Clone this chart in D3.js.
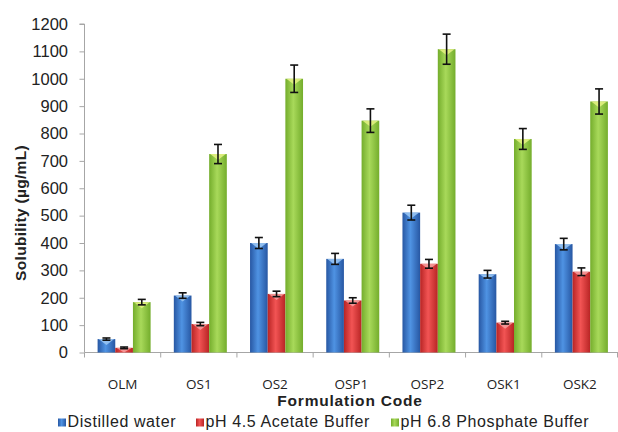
<!DOCTYPE html>
<html><head><meta charset="utf-8">
<script src="https://cdn.jsdelivr.net/npm/d3@7"></script>
<style>body{margin:0;background:#fff}svg{display:block}</style>
</head><body>
<svg id="c" width="618" height="432"></svg>
<script>
const categories = ["OLM","OS1","OS2","OSP1","OSP2","OSK1","OSK2"];
const seriesNames = ["Distilled water","pH 4.5 Acetate Buffer","pH 6.8 Phosphate Buffer"];
const distilled = [49, 208, 400, 342, 511, 286, 396];
const acetate   = [17, 104, 214, 190, 324, 109, 295];
const phosphate = [184, 725, 1000, 847, 1108, 780, 917];
const distilledErr = [4, 10, 20, 20, 27, 14, 21];
const acetateErr   = [3, 6, 10, 10, 16, 5, 14];
const phosphateErr = [10, 35, 50, 43, 55, 38, 46];
const yTicks = [0,100,200,300,400,500,600,700,800,900,1000,1100,1200];

const values = [distilled, acetate, phosphate];
const errs = [distilledErr, acetateErr, phosphateErr];
const colors = [
  {dark:"#2757a3", mid:"#4f93e3", cap:"#9cc8f5"},
  {dark:"#b82424", mid:"#f25454", cap:"#f7a0a0"},
  {dark:"#74ad2c", mid:"#a8d95a", cap:"#e6f285"}
];

const svg = d3.select("#c");
const mLeft = 84.5, mRight = 618, mTop = 24, mBottom = 352.5;
const x = d3.scaleBand().domain(categories).range([mLeft, mRight]).padding(0);
const y = d3.scaleLinear().domain([0,1200]).range([mBottom, mTop]);
const groupW = 53;
const x1 = d3.scaleBand().domain(seriesNames).range([0, groupW]).padding(0);
const off = (x.bandwidth() - groupW)/2 + 1.5;
const FONT = "Liberation Sans, Arial, sans-serif";

const defs = svg.append("defs");
colors.forEach((c,i)=>{
  const g = defs.append("linearGradient").attr("id","g"+i).attr("x1","0").attr("x2","1").attr("y1","0").attr("y2","0");
  g.append("stop").attr("offset","0").attr("stop-color",c.dark);
  g.append("stop").attr("offset","0.45").attr("stop-color",c.mid);
  g.append("stop").attr("offset","1").attr("stop-color",c.dark);
});

// y axis
const yAxis = d3.axisLeft(y).tickValues(yTicks).tickSize(5).tickFormat(d3.format("d"));
const ya = svg.append("g").attr("transform",`translate(${mLeft},0)`).call(yAxis);
ya.select(".domain").attr("stroke","#a6a6a6").attr("d",`M-5,${mTop}H0V${mBottom}`);
ya.selectAll(".tick line").attr("stroke","#a6a6a6");
ya.selectAll(".tick text").attr("font-family",FONT).attr("font-size",16.5).attr("fill","#222").attr("x",-16.5);

// x axis
const xa = svg.append("g").attr("transform",`translate(0,${mBottom})`);
xa.append("line").attr("x1",mLeft).attr("x2",mRight).attr("y1",0).attr("y2",0).attr("stroke","#a6a6a6");
const bounds = categories.map(c=>x(c)).concat([mRight-0.5]);
xa.selectAll("line.t").data(bounds).enter().append("line").attr("class","t")
  .attr("x1",d=>d).attr("x2",d=>d).attr("y1",0).attr("y2",5).attr("stroke","#a6a6a6");
xa.selectAll("text").data(categories).enter().append("text")
  .attr("x",d=>x(d)+x.bandwidth()/2).attr("y",36)
  .attr("text-anchor","middle").attr("font-family","Open Sans, sans-serif").attr("font-size",13.5).attr("fill","#222").text(d=>d);

// bars
values.forEach((vals,si)=>{
  const g = svg.append("g");
  const bw = x1.bandwidth();
  const data = categories.map((c,i)=>({c, v:vals[i], e:errs[si][i]}));
  g.selectAll("rect").data(data).enter().append("rect")
    .attr("x",d=>x(d.c)+off+x1(seriesNames[si]))
    .attr("y",d=>y(d.v)).attr("width",bw).attr("height",d=>y(0)-y(d.v))
    .attr("fill",`url(#g${si})`);
  g.selectAll("path.cap").data(data).enter().append("path").attr("class","cap")
    .attr("d",d=>{const x0=x(d.c)+off+x1(seriesNames[si]); const yy=y(d.v);
      return `M${x0+1},${yy}L${x0+bw-1},${yy}L${x0+bw/2},${yy+Math.min(6,(y(0)-yy))}Z`;})
    .attr("fill",colors[si].cap).attr("opacity",0.85);
  const eg = g.selectAll("g.err").data(data).enter().append("g").attr("class","err");
  const cx = d=>x(d.c)+off+x1(seriesNames[si])+bw/2;
  eg.append("line").attr("x1",cx).attr("x2",cx).attr("y1",d=>y(d.v+d.e)).attr("y2",d=>y(d.v-d.e)).attr("stroke","#111").attr("stroke-width",1.6);
  eg.append("line").attr("x1",d=>cx(d)-4).attr("x2",d=>cx(d)+4).attr("y1",d=>y(d.v+d.e)).attr("y2",d=>y(d.v+d.e)).attr("stroke","#111").attr("stroke-width",1.6);
  eg.append("line").attr("x1",d=>cx(d)-4).attr("x2",d=>cx(d)+4).attr("y1",d=>y(d.v-d.e)).attr("y2",d=>y(d.v-d.e)).attr("stroke","#111").attr("stroke-width",1.6);
});

// axis titles
svg.append("text").attr("transform","translate(26,213) rotate(-90)").attr("text-anchor","middle")
  .attr("font-family",FONT).attr("font-weight","bold").attr("font-size",15.5).attr("letter-spacing",0.3).attr("fill","#222")
  .text("Solubility (µg/mL)");
svg.append("text").attr("x",350).attr("y",406).attr("text-anchor","middle")
  .attr("font-family",FONT).attr("font-weight","bold").attr("font-size",15.5).attr("letter-spacing",0.8).attr("fill","#222")
  .text("Formulation Code");

// legend
const legX = [58, 196, 391];
const lg = svg.append("g");
seriesNames.forEach((s,i)=>{
  lg.append("rect").attr("x",legX[i]).attr("y",418.5).attr("width",8).attr("height",8).attr("fill",`url(#g${i})`);
  lg.append("text").attr("x",legX[i]+9.5).attr("y",427.3).attr("font-family",FONT).attr("font-size",16).attr("letter-spacing",0.6).attr("fill","#222").text(s);
});
</script>
</body></html>
